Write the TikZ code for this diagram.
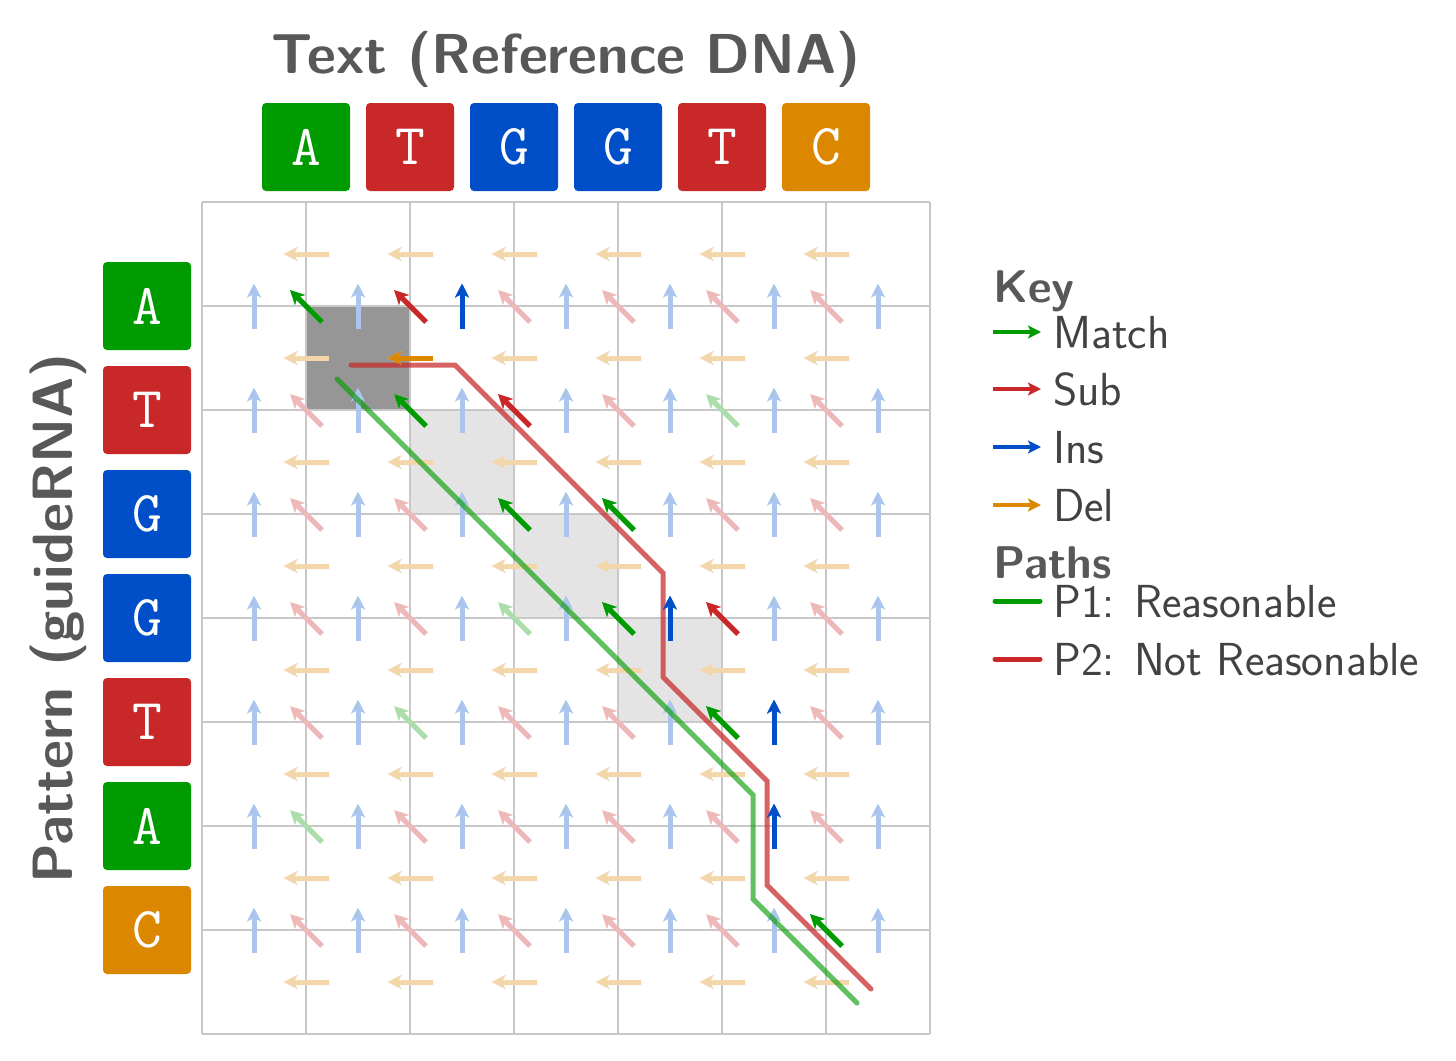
\documentclass[tikz,border=0pt]{standalone}
\usepackage{fontspec}
\usetikzlibrary{arrows.meta}
\definecolor{cG}{RGB}{0,155,0}
\definecolor{cR}{RGB}{200,40,40}
\definecolor{cB}{RGB}{0,78,200}
\definecolor{cO}{RGB}{220,135,0}
\colorlet{lG}{cG!33!white}
\colorlet{lR}{cR!33!white}
\colorlet{lB}{cB!33!white}
\colorlet{lO}{cO!33!white}
\definecolor{ttl}{RGB}{88,88,88}
\definecolor{txt}{RGB}{66,66,66}
\definecolor{gridc}{RGB}{200,200,200}
\definecolor{darksq}{RGB}{150,150,150}
\definecolor{lightsq}{RGB}{228,228,228}
\begin{document}
\begin{tikzpicture}[x=1bp,y=-1bp,
  arr/.style={line width=5bp,-{Stealth[length=14bp,width=14bp,inset=3.5bp]}},
  keyarr/.style={line width=4.5bp,-{Stealth[length=13bp,width=13bp,inset=3bp]}},
  keyline/.style={line width=5bp,line cap=round},
  gridline/.style={draw=gridc,line width=1.3bp},
  letter/.style={minimum size=88bp,inner sep=0pt,rounded corners=4bp,text=white,
    font=\fontsize{58}{58}\selectfont\ttfamily},
  ttlfont/.style={font=\fontsize{56.5}{60}\selectfont\sffamily\bfseries,text=ttl,inner sep=0pt},
  headfont/.style={font=\fontsize{46}{50}\selectfont\sffamily\bfseries,text=ttl,inner sep=0pt,anchor=base west},
  keyfont/.style={font=\fontsize{46.5}{50}\selectfont\sffamily,text=txt,inner sep=0pt,anchor=base west},
  pathG/.style={line width=5bp,cG,opacity=0.62,line cap=round},
  pathR/.style={line width=5bp,cR,opacity=0.72,line cap=round}]
\useasboundingbox (0,0) rectangle (1456,1060);
% highlighted squares
\fill[darksq] (306,306) rectangle (410,410);
\foreach \k in {1,2,3} \fill[lightsq] ({306+104*\k},{306+104*\k}) rectangle ++(104,104);
% grid
\foreach \k in {0,...,7} \draw[gridline] ({202+104*\k},202) -- ({202+104*\k},1034);
\foreach \k in {0,...,8} \draw[gridline] (202,{202+104*\k}) -- (930,{202+104*\k});
% titles
\node[ttlfont,anchor=base] (title) at (566,73) {Text (Reference DNA)};
\node[ttlfont,anchor=base,rotate=90,font=\fontsize{57}{60}\selectfont\sffamily\bfseries] (ptitle) at (72,618) {Pattern (guideRNA)};
% letter boxes
\foreach \l/\c [count=\j] in {A/cG,T/cR,G/cB,G/cB,T/cR,C/cO}
  \node[letter,fill=\c] (t\j) at ({202+104*\j},147) {\l};
\foreach \l/\c [count=\i] in {A/cG,T/cR,G/cB,G/cB,T/cR,A/cG,C/cO}
  \node[letter,fill=\c] (p\i) at (147,{202+104*\i}) {\l};
% DP lattice points
\foreach \i in {0,...,7} \foreach \j in {0,...,6}
  \coordinate (n-\i-\j) at ({254+104*\j},{254+104*\i});
% light deletion arrows
\foreach \r in {0,...,7} \foreach \j in {1,...,6}
  \draw[arr,color=lO] ({202+104*\j+22.5},{254+104*\r}) -- ++(-45,0);
% light insertion arrows
\foreach \i in {1,...,7} \foreach \k in {0,...,6}
  \draw[arr,color=lB] ({254+104*\k},{202+104*\i+22.5}) -- ++(0,-45);
% light diagonal arrows
\foreach \pl [count=\i] in {A,T,G,G,T,A,C}
  \foreach \tl [count=\j] in {A,T,G,G,T,C} {
    \edef\lettA{\pl}\edef\lettB{\tl}%
    \ifx\lettA\lettB \def\dc{lG}\else\def\dc{lR}\fi
    \draw[arr,color=\dc] ({202+104*\j+16},{202+104*\i+16}) -- ++(-32,-32);
  }
% paths
\draw[pathG] ([shift={(-21,21)}]n-1-1) -- ([shift={(-21,21)}]n-5-5) -- ([shift={(-21,21)}]n-6-5) -- ([shift={(-21,21)}]n-7-6);
\draw[pathR] ([shift={(-7,7)}]n-1-1) -- ([shift={(-7,7)}]n-1-2) -- ([shift={(-7,7)}]n-3-4) -- ([shift={(-7,7)}]n-4-4) -- ([shift={(-7,7)}]n-5-5) -- ([shift={(-7,7)}]n-6-5) -- ([shift={(-7,7)}]n-7-6);
% highlighted arrows
\foreach \i/\j/\c in {1/1/cG,1/2/cR,2/2/cG,2/3/cR,3/3/cG,3/4/cG,4/4/cG,4/5/cR,5/5/cG,7/6/cG}
  \draw[arr,color=\c] ({202+104*\j+16},{202+104*\i+16}) -- ++(-32,-32);
\foreach \i/\k in {1/2,4/4,5/5,6/5}
  \draw[arr,color=cB] ({254+104*\k},{202+104*\i+22.5}) -- ++(0,-45);
\draw[arr,color=cO] ({202+104*2+22.5},{254+104*1}) -- ++(-45,0);
% key
\node[headfont] (key) at (993,302) {Key};
\node[keyfont] (kM) at (1053,348) {Match};
\node[keyfont] (kS) at (1053,405) {Sub};
\node[keyfont] (kI) at (1053,463) {Ins};
\node[keyfont] (kD) at (1053,521) {Del};
\draw[keyarr,color=cG] (993,332) -- (1041,332);
\draw[keyarr,color=cR] (993,389) -- (1041,389);
\draw[keyarr,color=cB] (993,447) -- (1041,447);
\draw[keyarr,color=cO] (993,505) -- (1041,505);
\node[headfont] (paths) at (993,578) {Paths};
\node[keyfont] (kP1) at (1053,617) {P1: Reasonable};
\node[keyfont] (kP2) at (1053,675) {P2: Not Reasonable};
\draw[keyline,color=cG] (995,601) -- (1040,601);
\draw[keyline,color=cR] (995,659) -- (1040,659);
\end{tikzpicture}
\end{document}
